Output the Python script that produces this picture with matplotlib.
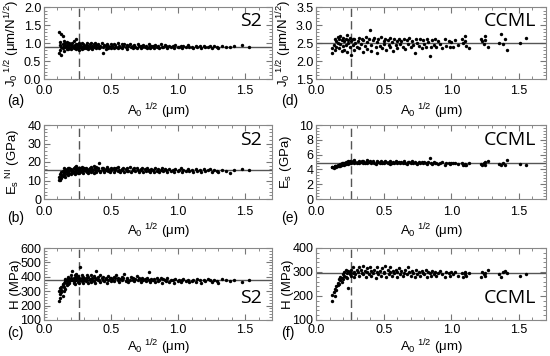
import numpy as np
import matplotlib
matplotlib.use('Agg')
import matplotlib.pyplot as plt

plt.rcParams['font.family'] = ['Liberation Sans', 'DejaVu Sans']
plt.rcParams['mathtext.fontset'] = 'custom'
plt.rcParams['mathtext.rm'] = 'Liberation Sans'
plt.rcParams['mathtext.it'] = 'Liberation Sans'

# S2 : 압흔 크기 (A0^1/2, um)
s2_x = [0.11,0.11,0.12,0.12,0.12,0.13,0.13,0.13,0.14,0.14,
        0.14,0.15,0.15,0.15,0.16,0.16,0.16,0.17,0.17,0.17,
        0.18,0.18,0.18,0.19,0.19,0.19,0.20,0.20,0.20,0.21,
        0.21,0.22,0.22,0.22,0.23,0.23,0.23,0.24,0.24,0.24,
        0.25,0.25,0.25,0.26,0.26,0.26,0.27,0.27,0.28,0.28,
        0.28,0.29,0.29,0.30,0.30,
        0.31,0.31,0.32,0.32,0.33,0.33,0.34,0.34,0.35,0.35,
        0.36,0.36,0.37,0.37,0.38,0.38,0.39,0.39,0.40,0.40,
        0.41,0.42,0.42,0.43,0.44,0.44,0.45,0.46,0.46,0.47,
        0.48,0.48,0.49,0.50,0.50,
        0.51,0.52,0.52,0.53,0.54,0.55,0.55,0.56,0.57,0.58,
        0.58,0.59,0.60,0.61,0.62,0.62,0.63,0.64,0.65,0.66,
        0.66,0.67,0.68,0.69,0.70,0.71,0.72,0.72,0.73,0.74,
        0.75,0.76,0.77,0.78,0.78,0.79,0.80,0.80,
        0.81,0.82,0.83,0.84,0.85,0.86,0.87,0.88,0.89,0.90,
        0.91,0.92,0.93,0.95,0.96,0.97,0.98,1.00,1.01,1.02,
        1.03,1.04,1.06,1.07,1.08,
        1.10,1.11,1.13,1.14,1.16,1.17,1.19,1.20,1.22,1.24,
        1.25,1.27,1.29,1.30,1.33,1.36,1.39,1.42,1.48,1.53]

s2_j0 = [1.30,0.72,1.02,0.80,0.95,1.25,0.90,0.68,1.20,0.97,
         0.85,1.05,0.92,0.78,0.88,1.00,0.95,0.82,0.93,1.02,
         0.90,0.98,0.84,0.94,0.86,1.00,0.89,0.96,0.83,0.92,
         0.99,0.87,0.93,1.05,0.85,0.95,0.90,0.98,0.82,1.10,
         0.91,0.86,0.97,0.93,0.80,1.01,0.88,0.94,0.84,0.99,
         0.90,0.87,0.96,0.92,0.85,
         0.95,0.86,1.00,0.89,0.93,0.83,0.97,0.90,0.87,0.99,
         0.92,0.84,0.96,0.88,1.01,0.91,0.85,0.94,0.89,0.97,
         0.86,0.93,0.90,0.99,0.72,0.88,0.95,0.84,0.92,0.98,
         0.87,0.93,0.90,0.96,0.85,
         0.92,0.97,0.86,0.94,0.89,0.99,0.85,0.93,0.90,0.96,
         0.87,0.92,0.98,0.88,0.94,0.84,0.91,0.96,0.89,0.93,
         0.86,0.95,0.90,0.87,0.97,0.91,0.85,0.93,0.89,0.95,
         0.88,0.92,0.86,0.96,0.90,0.87,0.93,0.89,
         0.91,0.87,0.95,0.89,0.92,0.86,0.97,0.90,0.88,0.94,
         0.91,0.86,0.93,0.89,0.92,0.87,0.95,0.90,0.88,0.93,
         0.86,0.91,0.89,0.94,0.88,
         0.90,0.87,0.93,0.89,0.91,0.86,0.92,0.88,0.90,0.93,
         0.87,0.91,0.89,0.85,0.92,0.88,0.90,0.91,0.94,0.88]

s2_es = [10.5,12.0,11.0,13.5,10.2,12.8,14.5,11.5,13.0,15.0,
         12.5,14.0,16.5,13.2,15.5,12.0,14.8,16.0,13.5,15.2,
         14.0,16.8,13.0,15.5,17.0,14.2,15.8,13.5,16.2,14.8,
         15.5,13.8,16.5,14.5,17.5,15.0,13.5,16.2,18.0,14.8,
         15.8,17.0,14.0,16.0,15.2,13.8,16.8,15.0,14.5,17.2,
         15.5,16.0,14.2,15.8,16.5,
         15.0,17.0,14.5,16.2,15.5,13.8,16.8,15.2,17.5,14.8,
         16.0,15.0,18.0,14.2,16.5,15.8,17.2,14.8,15.5,16.8,
         19.5,15.2,14.5,16.5,15.8,17.0,14.8,16.2,15.5,17.5,
         15.0,16.0,14.5,16.8,15.5,
         16.0,14.8,17.0,15.5,16.5,15.0,17.2,15.8,14.5,16.2,
         15.5,17.0,14.8,16.0,15.2,16.8,15.0,17.5,14.8,16.2,
         15.5,16.5,15.0,17.0,15.8,14.5,16.2,15.5,16.8,14.8,
         16.0,15.2,16.5,15.0,15.8,14.8,16.2,15.5,
         15.8,14.8,16.5,15.2,16.0,14.5,15.5,16.8,15.0,16.2,
         15.5,14.8,16.0,15.2,15.8,14.5,16.2,15.0,15.5,16.5,
         14.8,15.8,15.2,16.0,15.0,
         15.5,14.8,16.0,15.2,15.8,14.5,16.2,15.0,15.5,16.0,
         14.8,15.5,15.2,14.5,15.8,15.0,14.2,15.5,16.0,15.8]

s2_h = [230,300,250,320,280,330,295,310,340,265,
        350,300,360,330,370,315,385,345,375,360,
        390,350,400,370,385,355,395,375,410,380,
        440,370,395,360,410,380,350,400,420,375,
        390,365,405,385,355,395,470,380,410,370,
        390,360,400,375,385,
        395,370,410,380,360,400,385,375,415,365,
        390,380,405,370,395,360,385,440,375,400,
        380,410,365,390,375,400,370,395,385,360,
        405,380,390,370,395,
        385,400,370,390,410,375,395,365,385,400,
        375,390,420,370,385,395,365,380,400,375,
        390,370,385,405,375,390,365,380,395,375,
        385,370,390,430,380,365,385,375,
        375,385,365,390,370,380,395,360,385,375,
        370,390,365,380,375,360,385,370,380,365,
        375,385,370,380,365,
        370,380,365,385,375,360,380,370,385,375,
        365,380,370,355,385,375,370,380,365,375]

# CCML
cc_x = [0.12,0.12,0.13,0.14,0.14,0.15,0.15,0.16,0.16,0.17,
        0.17,0.18,0.18,0.19,0.19,0.20,0.20,0.21,0.21,0.22,
        0.22,0.23,0.23,0.24,0.24,0.25,0.25,0.26,0.26,0.27,
        0.27,0.28,0.28,0.29,0.30,
        0.31,0.32,0.32,0.33,0.34,0.35,0.35,0.36,0.37,0.38,
        0.38,0.39,0.40,0.41,0.41,0.42,0.43,0.44,0.45,0.45,
        0.46,0.47,0.48,0.49,0.50,0.50,0.51,0.52,0.53,0.54,
        0.55,0.55,0.56,0.57,0.58,0.59,0.60,0.60,0.61,0.62,
        0.63,0.64,0.65,0.66,0.67,0.68,0.69,0.70,0.71,0.72,
        0.73,0.74,0.75,0.76,0.77,0.78,0.79,0.80,0.81,0.82,
        0.83,0.84,0.85,0.86,0.87,0.88,0.89,0.90,0.92,0.93,
        0.95,0.96,0.98,0.99,1.00,
        1.01,1.03,1.05,1.08,1.09,1.10,1.10,1.11,1.13,1.22,
        1.23,1.24,1.25,1.25,1.27,1.35,1.37,1.38,1.40,1.41,
        1.51,1.55]

cc_j0 = [2.35,2.22,2.45,2.60,2.30,2.55,2.40,2.68,2.50,2.62,
         2.35,2.70,2.48,2.58,2.28,2.65,2.42,2.55,2.30,2.62,
         2.45,2.72,2.25,2.58,2.50,2.65,2.38,2.55,2.18,2.60,
         2.45,2.30,2.62,2.50,2.40,
         2.55,2.65,2.35,2.48,2.60,2.25,2.58,2.42,2.68,2.52,
         2.32,2.62,2.85,2.45,2.28,2.58,2.65,2.38,2.52,2.22,
         2.60,2.42,2.68,2.35,2.55,2.48,2.62,2.30,2.58,2.45,
         2.65,2.38,2.52,2.28,2.60,2.45,2.55,2.35,2.62,2.48,
         2.55,2.40,2.62,2.32,2.58,2.48,2.65,2.38,2.55,2.45,
         2.22,2.60,2.50,2.42,2.62,2.35,2.58,2.48,2.40,2.62,
         2.52,2.15,2.38,2.58,2.45,2.62,2.40,2.55,2.48,2.35,
         2.60,2.42,2.55,2.38,2.52,
         2.40,2.58,2.45,2.62,2.50,2.55,2.70,2.42,2.35,2.62,
         2.55,2.48,2.70,2.58,2.38,2.50,2.75,2.48,2.60,2.30,
         2.50,2.65]

cc_es = [4.30,4.35,4.25,4.40,4.45,4.30,4.50,4.40,4.60,4.45,
         4.55,4.70,4.50,4.80,4.60,4.75,4.90,4.65,4.85,4.70,
         4.95,4.80,5.00,4.75,5.10,4.90,5.20,4.85,5.05,4.95,
         5.15,4.80,5.25,5.00,4.90,
         5.05,4.85,5.20,4.95,5.10,4.80,5.15,4.90,5.05,4.85,
         5.25,4.95,5.10,4.80,5.00,5.20,4.90,4.75,5.10,4.95,
         5.05,4.85,5.20,4.90,5.00,4.80,5.15,4.95,4.85,5.05,
         4.75,5.10,4.90,5.00,4.85,5.15,4.95,4.80,5.05,4.90,
         5.00,4.85,5.10,4.90,4.75,5.05,4.95,4.80,5.10,4.85,
         5.00,4.90,4.75,5.05,4.85,4.95,4.80,5.00,4.90,4.70,
         4.95,5.55,4.85,4.75,4.95,4.80,4.90,4.70,4.85,4.95,
         4.65,4.80,4.90,4.75,4.85,
         4.80,4.90,4.70,4.85,4.55,4.65,4.75,4.60,4.80,4.70,
         4.55,4.85,4.65,5.00,5.20,4.70,4.55,4.80,4.65,5.30,
         4.70,4.60]

cc_h = [205,180,215,230,200,240,225,255,245,270,
        250,265,280,260,275,290,270,300,285,310,
        280,295,275,305,235,290,300,310,285,295,
        320,280,300,290,310,
        300,320,285,310,295,325,290,305,280,315,
        300,290,320,285,305,295,310,275,300,320,
        290,305,285,315,295,300,325,280,310,290,
        300,320,285,305,295,310,280,300,315,290,
        305,285,295,310,290,320,300,285,305,295,
        280,310,290,300,285,305,295,290,310,280,
        300,295,285,305,290,300,285,295,305,290,
        280,300,295,285,300,
        290,300,285,295,280,300,290,285,295,280,
        300,290,285,295,310,290,280,300,305,295,
        285,290]

# 패널 설정 : (라벨, x, y, 평균선, y범위, y눈금간격, y축이름, 시료이름, 이름위치)
xlab = r'A$_0$$^{\ 1/2}$ ($\mu$m)'
panels = [
    ('(a)', s2_x, s2_j0, 0.9, (0, 2.0), 0.5, r'J$_0$$^{\ 1/2}$ ($\mu$m/N$^{1/2}$)', 'S2', 'top'),
    ('(b)', s2_x, s2_es, 15.5, (0, 40), 10, r'E$_s$$^{\ NI}$ (GPa)', 'S2', 'top'),
    ('(c)', s2_x, s2_h, 380, (100, 600), 100, 'H (MPa)', 'S2', 'bottom'),
    ('(d)', cc_x, cc_j0, 2.5, (1.5, 3.5), 0.5, r'J$_0$$^{\ 1/2}$ ($\mu$m/N$^{1/2}$)', 'CCML', 'top'),
    ('(e)', cc_x, cc_es, 4.85, (0, 10), 2, r'E$_s$ (GPa)', 'CCML', 'top'),
    ('(f)', cc_x, cc_h, 295, (100, 400), 100, 'H (MPa)', 'CCML', 'bottom'),
]

W, H = 550, 356
fig = plt.figure(figsize=(5.5, 3.56), dpi=100)
col_left = [44, 316]
col_w = [228, 230]
ylab_right = [22, 294]        # y축 이름 위치 (px)
rows = [(7, 79), (125, 199), (248, 320)]
xtick_pad = [4, 5, 3]
xlab_off = [22, 22, 17]       # 아래 축에서 x축 이름까지 (px)
tag_y = [101, 218, 333]       # (a)..(f) 라벨 높이 (px)

for i, (tag, xs, ys, mean, ylim, ystep, ylab, name, pos) in enumerate(panels):
    c, r = i // 3, i % 3
    top, bot = rows[r]
    hgt = bot - top
    ax = fig.add_axes([col_left[c] / W, (H - bot) / H, col_w[c] / W, hgt / H])
    ax.scatter(xs, ys, s=6, c='black', marker='o', linewidths=0, zorder=3)
    ax.axhline(mean, color='#555555', lw=1.0, zorder=2)
    ax.axvline(0.26, color='#555555', lw=1.0, ls=(0, (6, 3)), zorder=2)
    ax.set_xlim(0, 1.7)
    ax.set_ylim(*ylim)
    ax.set_xticks([0, 0.5, 1.0, 1.5])
    ax.set_xticks(np.arange(0, 1.71, 0.1), minor=True)
    ax.set_yticks(np.arange(ylim[0], ylim[1] + ystep / 2, ystep))
    ax.set_yticks(np.arange(ylim[0], ylim[1] + ystep / 10, ystep / 5), minor=True)
    ax.xaxis.set_major_formatter(matplotlib.ticker.FormatStrFormatter('%.1f'))
    if ystep < 1:
        ax.yaxis.set_major_formatter(matplotlib.ticker.FormatStrFormatter('%.1f'))
    ax.tick_params(which='both', direction='in', top=True, right=True,
                   labelsize=9, color='#777777')
    ax.tick_params(axis='x', pad=xtick_pad[r])
    ax.tick_params(axis='y', pad=2)
    ax.tick_params(which='major', length=4)
    ax.tick_params(which='minor', length=2)
    for sp in ax.spines.values():
        sp.set_color('#888888')
        sp.set_linewidth(0.8)
    ax.set_xlabel(xlab, fontsize=9.5)
    ax.xaxis.set_label_coords(0.5, -xlab_off[r] / hgt)
    ax.set_ylabel(ylab, fontsize=9.5)
    ax.yaxis.set_label_coords((ylab_right[c] - col_left[c]) / col_w[c], 0.5)
    ypos = 0.8 if pos == 'top' else 0.3
    ax.text(0.955, ypos, name, transform=ax.transAxes, ha='right', va='center',
            fontsize=14, family='Open Sans')
    fig.text((7 if c == 0 else 281) / W, (H - tag_y[r]) / H, tag, fontsize=10,
             ha='left', va='center')

fig.savefig('out.png', dpi=100)
